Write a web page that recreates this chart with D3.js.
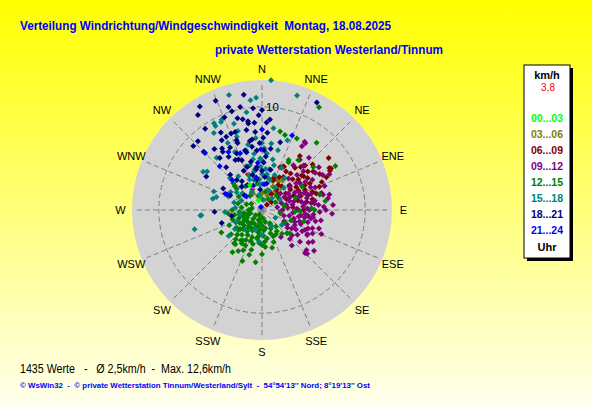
<!DOCTYPE html>
<html>
<head>
<meta charset="utf-8">
<script src="https://cdn.jsdelivr.net/npm/d3@7"></script>
<style>
  body { margin: 0; }
  svg { display: block; font-family: "Liberation Sans", Arial, sans-serif; }
  text { white-space: pre; }
</style>
</head>
<body>
<script>
var width = 592, height = 407
var cx = 262, cy = 210, radius = 130

// data: [direction in degrees, speed in km/h]
var maxSpeed = 12.6
var currentSpeed = "3,8"
var compass = ["N","NNE","NE","ENE","E","ESE","SE","SSE","S","SSW","SW","WSW","W","WNW","NW","NNW"]
var rings = [10]
var bands = ["00...03","03...06","06...09","09...12","12...15","15...18","18...21","21...24"]
var bandColors = ["#00ff00","#808000","#800000","#800080","#008000","#008080","#000080","#0000ff"]

var h00 = [[334,2.7],[340,1.0]]
var h03 = [[20,1.5],[25,2.5],[30,3.2],[35,3.5],[15,2],[10,1.0],[40,2.8],[45,2.0],[0,1.6],[355,1.2],
  [30,1.8],[20,3.0],[50,1.2],[170,0.8],[200,0.6],[330,1.8],[25,3.4],[35,2.2]]
var h06 = [[52,8.2],[59,7.8],[27,4.7],[38,4.5],[51,5.2],[61,5.3],[73,5.5],[72,4.7],[48,3.6],[58,7.7],
  [32,4.4],[20,3.3],[33,2.9],[60,7.6],[50,4.6],[49,5.1],[26,4.7],[50,3.5],[49,1.2],[43,0.7],[36,2.4],
  [56,4.0],[65,4.6],[70,5.2],[40,3.0],[45,2.2],[55,2.8],[65,3.4],[75,3.6],[80,4.4],[68,6.0],[62,4.0],
  [42,5.6],[35,6.4],[53,6.2],[85,3.0],[90,4.0],[57,2.0],[30,1.8],[23,4.5],[21,3.1],
  [45,4.2],[50,5.8],[55,5.4],[60,4.8],[65,6.4],[70,4.0],[48,6.6],[58,6.6],[63,7.0],[38,5.2],[44,6.0],
  [54,3.4],[66,2.6],[78,5.0],[33,3.8],[28,3.6]]
var h09 = [[37,6.1],[43,5.9],[53,6.9],[62,7.4],[69,6.5],[74,6.0],[81,4.2],[59,5.7],[33,7.7],[35,5.3],
  [55,6.3],[76,6.1],[86,6.9],[119,5.0],[135,5.9],[132,5.8],[136,3.9],[100,3.6],[122,3.4],[134,6.1],
  [32,7.8],[32,7.3],[60,2.5],[65,3.0],[70,3.8],[75,4.5],[80,3.0],[85,2.5],[90,3.5],[95,4.2],[100,4.8],
  [105,3.2],[110,4.0],[115,4.6],[120,2.8],[125,4.2],[130,4.8],[85,5.5],[90,6.2],[95,5.0],[100,5.8],
  [110,5.2],[115,3.5],[105,2.2],[95,1.8],[80,1.5],[70,2.0],[50,3.5],[55,4.5],[65,5.2],[75,5.8],[80,6.5],
  [60,6.8],[45,4.8],[40,4.0],[125,5.5],[140,4.5],[145,3.2],[128,6.4],[112,6.2],[90,2.0],[78,3.9],
  [88,4.4],[98,3.8],[68,4.4],[58,3.0],[48,2.4],[72,5.0],[102,5.3],[118,4.4],[83,5.1],[93,6.8],
  [65,4.0],[70,4.6],[75,3.2],[80,5.2],[85,4.0],[90,4.6],[95,3.0],[100,4.2],[105,4.6],[110,3.4],
  [115,5.4],[120,3.8],[125,3.0],[130,3.8],[78,2.4],[88,3.4],[98,5.0],[108,5.8],[118,5.0],[62,3.6],
  [72,2.8],[82,4.8],[92,5.6],[102,2.7],[112,4.8],[122,5.8],[67,5.6],[77,6.7],[57,5.0],[52,4.2],
  [47,5.5],[42,6.8],[87,6.0],[97,4.5],[107,3.8],[117,2.4]]
var h12 = [[241,4.5],[229,2.8],[219,3.1],[218,4.2],[211,3.8],[212,3.5],[210,4.6],[201,5.3],[187,5.1],
  [186,1.9],[188,2.6],[177,2.5],[175,3.1],[157,2.8],[150,2.7],[149,1.5],[220,4.2],[175,3.6],[237,1.8],
  [264,3.3],[339,3.6],[313,3.8],[277,2.0],[254,1.2],[250,1.9],[260,2.7],[270,2.9],[160,3.3],[130,3.5],
  [93,3.2],[92,3.7],[88,4.8],[90,5.1],[59,8.3],[29,5.3],[29,11.4],[13,7.8],[17,7.6],[39,8.4],[28,5.5],
  [36,6.0],[133,3.3],[26,7.7],[200,1],[210,1.5],[220,2],[230,2.3],[240,2],[250,1.5],[190,2.2],[180,1.5],
  [200,2.8],[215,2.5],[225,1.2],[235,3],[245,2.8],[255,2.2],[260,1.8],[270,1.3],[195,3.4],[205,3.8],
  [185,3.2],[170,1.8],[160,2.4],[150,1.6],[140,2.1],[230,0.8],[210,0.5],[280,1],[290,1.6],[300,1.2],
  [320,1.8],[335,2.2],[345,1.4],[300,2.6],[310,3.2],[60,1.5],[45,2],[80,2.2],[100,1.8],[120,2.5],
  [110,3.0],[70,3.5],[205,2.2],[195,1.6],[225,3.4],[232,3.8],[245,3.5],[252,3.0],[265,2.2],[285,2.4],
  [325,2.8],[350,2.6],[10,1.8],[30,1.2],[140,3.0],[165,3.8],[180,4.3],[196,4.5],[215,5.0],[105,4.2],
  [75,5.8],[60,4.5],[50,6.5],[82,6.2],[311,3.5],
  [200,3.2],[205,4.3],[210,2.8],[215,3.6],[220,1.6],[225,2.6],[230,3.0],[240,2.5],[250,2.4],[260,1.2],
  [190,2.8],[195,4.0],[185,2.4],[180,3.4],[175,2.0],[170,2.8],[200,1.8],[212,2.0],[222,3.8],[236,2.3],
  [244,1.6],[256,1.6],[190,1.2],[178,0.8],[165,1.2],[155,2.0],[145,2.5],[208,3.3],[218,2.3],[228,1.8]]
var h15 = [[4,12.6],[344,11.6],[17,11.6],[354,10.7],[331,9.6],[336,9.6],[342,8.8],[328,8.8],[357,10.9],
  [351,9.6],[335,9.4],[331,9.3],[333,7.3],[319,6.7],[305,6.5],[291,5.0],[286,4.6],[265,6.0],[343,8.0],
  [341,7.5],[335,6.2],[254,6.8],[232,4.1],[303,6.8],[283,4.9],[267,3.6],[292,3.5],[265,5.9],[185,3.1],
  [127,2.4],[350,1.5],[355,2.5],[345,3],[0,3.5],[10,4],[15,3],[20,2],[340,4.5],[350,5],[5,5.5],[30,2.5],
  [40,1.5],[330,2],[320,3],[310,2.5],[300,3.5],[285,2.8],[5,1.0],[25,4.5],[15,6],[0,6.5],[345,6],
  [355,7],[12,5],[358,4.2],[348,3.8],[338,3.2],[325,4.0],[315,4.4],[305,3.0],[295,2.2],[275,2.6],
  [260,2.2],[245,2.8],[235,3.2],[220,2.5],[200,2.0],[180,2.4],[150,1.8],[120,1.5],[60,2.0],[45,3.0],
  [35,3.8],[8,8.0],[20,7.2],[8,6.5],
  [355,3.0],[0,2.5],[5,4.0],[10,3.2],[350,4.0],[345,4.5],[340,3.6],[2,6.0],[358,5.0],[352,5.5],
  [348,6.5],[15,4.5],[20,3.6],[0,4.8],[8,3.5]]
var h18 = [[351,11.3],[337,11.5],[329,11.7],[326,11.1],[355,9.9],[0,9.7],[338,9.7],[325,9.6],[317,9.1],
  [313,9.1],[341,8.0],[351,8.5],[326,6.8],[340,6.9],[349,7.9],[352,6.9],[355,5.8],[321,6.5],[328,6.1],
  [332,5.5],[338,5.2],[341,4.4],[353,4.2],[318,4.6],[268,4.6],[319,3.0],[295,3.4],[299,4.3],[27,11.7],
  [252,4.1],[259,3.0],[301,6.3],[4,7.5],[4,5.2],[345,9.2],[351,8.7],[355,8.5],[338,8.0],[334,7.9],
  [327,7.1],[351,6.2],[344,6.0],[335,5.4],[345,3.5],[350,3.0],[0,3.8],[5,3.2],[340,2.5],[330,2.8],
  [355,2.0],[10,2.6],[310,2.2],[320,3.8],[347,4.8],[2,4.6],[358,6.5],[8,6.0],[12,4.0],[333,6.8],
  [322,7.5],[342,10.5],[348,10.2],[332,8.5],[315,8.0],[5,8.8],[15,6.8],[3,8.5],[1,7.0],
  [345,5.8],[350,6.8],[355,7.6],[340,7.2],[336,6.0],[330,7.8],[348,9.0],[343,10.0],[358,9.2],
  [320,5.4],[325,3.4],[335,4.2],[2,5.8],[352,4.0]]
var h21 = [[0,7.8],[22,7.8],[315,7.8],[316,5.9],[359,5.9],[339,5.9],[315,4.1],[294,3.7],[311,2.0],
  [340,0.3],[294,3.9],[350,3.2],[355,4.6],[5,2.5],[330,6.5]]
var bandPoints = [h00,h03,h06,h09,h12,h15,h18,h21]
var drawOrder = [1,2,3,4,5,6,7,0]
var current = [337,3.8]
var mean = [338,2.3]

var svg = d3.select("body").append("svg")
    .attr("width", width)
    .attr("height", height)

// yellow background fading down
var grad = svg.append("defs").append("linearGradient")
    .attr("id", "bg").attr("x1", 0).attr("y1", 0).attr("x2", 0).attr("y2", 1)
grad.append("stop").attr("offset", "0%").attr("stop-color", "#ffff00")
grad.append("stop").attr("offset", "100%").attr("stop-color", "#ffffee")
svg.append("rect").attr("width", width).attr("height", height).attr("fill", "url(#bg)")

var r = d3.scaleLinear().domain([0, maxSpeed]).range([0, radius])
var ang = d3.scaleLinear().domain([0, 360]).range([0, 2 * Math.PI])

var plot = svg.append("g").attr("transform", "translate(" + cx + "," + cy + ")")

plot.append("circle").attr("r", radius).attr("fill", "#d3d3d3")

// grid
plot.selectAll(".spoke")
    .data(compass)
    .enter().append("line")
    .attr("x1", 0).attr("y1", 0)
    .attr("x2", function(d, i) { return d3.pointRadial(ang(i * 22.5), radius - 2)[0] })
    .attr("y2", function(d, i) { return d3.pointRadial(ang(i * 22.5), radius - 2)[1] })
    .attr("stroke", "#808080")
    .attr("stroke-dasharray", "5,3")

plot.selectAll(".ring")
    .data(rings)
    .enter().append("circle")
    .attr("r", function(d) { return r(d) })
    .attr("fill", "none")
    .attr("stroke", "#808080")
    .attr("stroke-dasharray", "5,3")

plot.selectAll(".ringlabel")
    .data(rings)
    .enter().append("text")
    .attr("x", 4)
    .attr("y", function(d) { return -r(d) + 4 })
    .attr("font-size", 11.5)
    .text(function(d) { return d })

// points
var s = 3
var diamond = "M0," + (-s) + "L" + s + ",0L0," + s + "L" + (-s) + ",0Z"
drawOrder.forEach(function(b) {
  plot.append("g").selectAll("path")
      .data(bandPoints[b])
      .enter().append("path")
      .attr("d", diamond)
      .attr("fill", bandColors[b])
      .attr("transform", function(d) {
        return "translate(" + d3.pointRadial(ang(d[0]), r(d[1])) + ")"
      })
})

plot.append("circle")
    .attr("transform", "translate(" + d3.pointRadial(ang(mean[0]), r(mean[1])) + ")")
    .attr("r", 1.3).attr("fill", "#ff00ff")
plot.append("circle")
    .attr("transform", "translate(" + d3.pointRadial(ang(current[0]), r(current[1])) + ")")
    .attr("r", 1.5).attr("fill", "#ff0000")

// compass labels
plot.selectAll(".dir")
    .data(compass)
    .enter().append("text")
    .attr("x", function(d, i) { return d3.pointRadial(ang(i * 22.5), 141.5)[0] })
    .attr("y", function(d, i) { return d3.pointRadial(ang(i * 22.5), 141.5)[1] })
    .attr("text-anchor", "middle")
    .attr("dominant-baseline", "central")
    .attr("font-size", 11)
    .text(function(d) { return d })

// titles
svg.append("text").attr("x", 20).attr("y", 30)
    .attr("font-size", 12.5).attr("font-weight", "bold").attr("fill", "#0000ff")
    .attr("textLength", 371).attr("lengthAdjust", "spacingAndGlyphs")
    .text("Verteilung Windrichtung/Windgeschwindigkeit  Montag, 18.08.2025")
svg.append("text").attr("x", 215).attr("y", 54)
    .attr("font-size", 12.5).attr("font-weight", "bold").attr("fill", "#0000ff")
    .attr("textLength", 228).attr("lengthAdjust", "spacingAndGlyphs")
    .text("private Wetterstation Westerland/Tinnum")

// legend
var lg = svg.append("g").attr("transform", "translate(524,65)")
lg.append("rect").attr("x", 3).attr("y", 3).attr("width", 46).attr("height", 193).attr("fill", "#000")
lg.append("rect").attr("width", 46).attr("height", 193).attr("fill", "#fff").attr("stroke", "#000")
lg.append("text").attr("x", 23).attr("y", 14).attr("text-anchor", "middle")
    .attr("font-size", 11).attr("font-weight", "bold").text("km/h")
lg.append("text").attr("x", 24).attr("y", 25.5).attr("text-anchor", "middle")
    .attr("font-size", 10).attr("fill", "#ff0000").text(currentSpeed)
lg.selectAll(".band")
    .data(bands)
    .enter().append("text")
    .attr("x", 23)
    .attr("y", function(d, i) { return 56.5 + i * 16.1 })
    .attr("text-anchor", "middle")
    .attr("font-size", 10.5).attr("font-weight", "bold")
    .attr("fill", function(d, i) { return bandColors[i] })
    .text(function(d) { return d })
lg.append("text").attr("x", 23).attr("y", 185.5).attr("text-anchor", "middle")
    .attr("font-size", 11).attr("font-weight", "bold").text("Uhr")

// footer
svg.append("text").attr("x", 20).attr("y", 373)
    .attr("font-size", 12)
    .attr("textLength", 211).attr("lengthAdjust", "spacingAndGlyphs")
    .text("1435 Werte   -   Ø 2,5km/h  -  Max. 12,6km/h")
svg.append("text").attr("x", 20).attr("y", 388)
    .attr("font-size", 8).attr("font-weight", "bold").attr("fill", "#0000ff")
    .attr("textLength", 350).attr("lengthAdjust", "spacingAndGlyphs")
    .text("© WsWin32  -  © private Wetterstation Tinnum/Westerland/Sylt  -  54°54'13'' Nord; 8°19'13'' Ost")
</script>
</body>
</html>
